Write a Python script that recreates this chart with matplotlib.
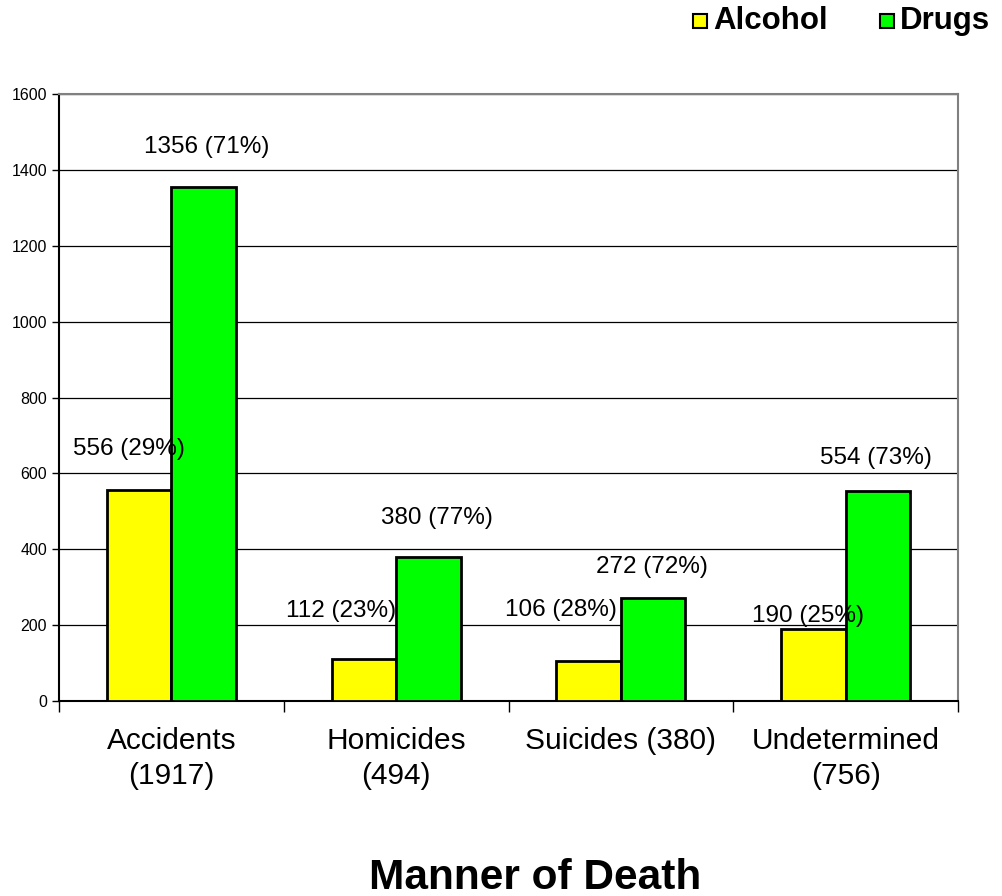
import matplotlib
matplotlib.use("Agg")
import matplotlib.pyplot as plt
import numpy as np
from matplotlib.patches import Rectangle

plt.rcParams['font.family'] = ['Liberation Sans', 'DejaVu Sans']

categories = ['Accidents\n(1917)', 'Homicides\n(494)', 'Suicides (380)', 'Undetermined\n(756)']
alcohol = [556, 112, 106, 190]
drugs = [1356, 380, 272, 554]
alcohol_pct = [29, 23, 28, 25]
drugs_pct = [71, 77, 72, 73]

# label offsets (pixels) from bar top centre, as in the original
alc_off = [(-10, 41), (-23, 48), (-28, 51), (-5, 13)]
drg_off = [(3, 40), (9, 39), (-1, 31), (-2, 33)]

fig = plt.figure(figsize=(10.02, 8.96), dpi=100)
ax = fig.add_axes([59/1002, 1-701/896, (958-59)/1002, (701-94)/896])

x = np.arange(len(categories))
w = 0.287
ax.bar(x - w/2, alcohol, w, color='#ffff00', edgecolor='black', lw=2, zorder=3, label='Alcohol')
ax.bar(x + w/2, drugs, w, color='#00ff00', edgecolor='black', lw=2, zorder=3, label='Drugs')

for i in range(len(x)):
    ax.annotate(f'{alcohol[i]} ({alcohol_pct[i]}%)', (x[i] - w/2, alcohol[i]),
                xytext=alc_off[i], textcoords='offset pixels',
                ha='center', va='center', fontsize=17.5, zorder=4)
    ax.annotate(f'{drugs[i]} ({drugs_pct[i]}%)', (x[i] + w/2, drugs[i]),
                xytext=drg_off[i], textcoords='offset pixels',
                ha='center', va='center', fontsize=17.5, zorder=4)

ax.set_xlim(-0.5, len(x) - 0.5)
ax.set_ylim(0, 1600)
ax.set_yticks(np.arange(0, 1601, 200))
ax.yaxis.grid(True, color='black', lw=0.9, zorder=0)
ax.tick_params(axis='y', labelsize=11.5, length=5, direction='out', width=1)
ax.set_xticks(x)
ax.set_xticklabels(categories, fontsize=21.5, linespacing=1.3)
ax.tick_params(axis='x', which='major', length=0, pad=19)
ax.set_xticks(np.arange(-0.5, len(x), 1), minor=True)
ax.tick_params(axis='x', which='minor', length=8, width=1)

ax.spines['left'].set_linewidth(1.5)
ax.spines['bottom'].set_linewidth(1.5)
ax.spines['top'].set_color('#808080')
ax.spines['right'].set_color('#808080')
ax.spines['top'].set_linewidth(1.5)
ax.spines['right'].set_linewidth(1.5)

fig.text(535/1002, 1-878/896, 'Manner of Death', ha='center', va='center',
         fontsize=30.5, fontweight='bold')

# legend
for (sx, lab, col) in [(693, 'Alcohol', '#ffff00'), (880, 'Drugs', '#00ff00')]:
    fig.patches.append(Rectangle((sx/1002, 1-28/896), 14/1002, 14/896, transform=fig.transFigure,
                                 fc=col, ec='black', lw=1.5))
    fig.text((sx+20)/1002, 1-21/896, lab, ha='left', va='center', fontsize=22.5, fontweight='bold')

fig.savefig('out.png', dpi=100)
